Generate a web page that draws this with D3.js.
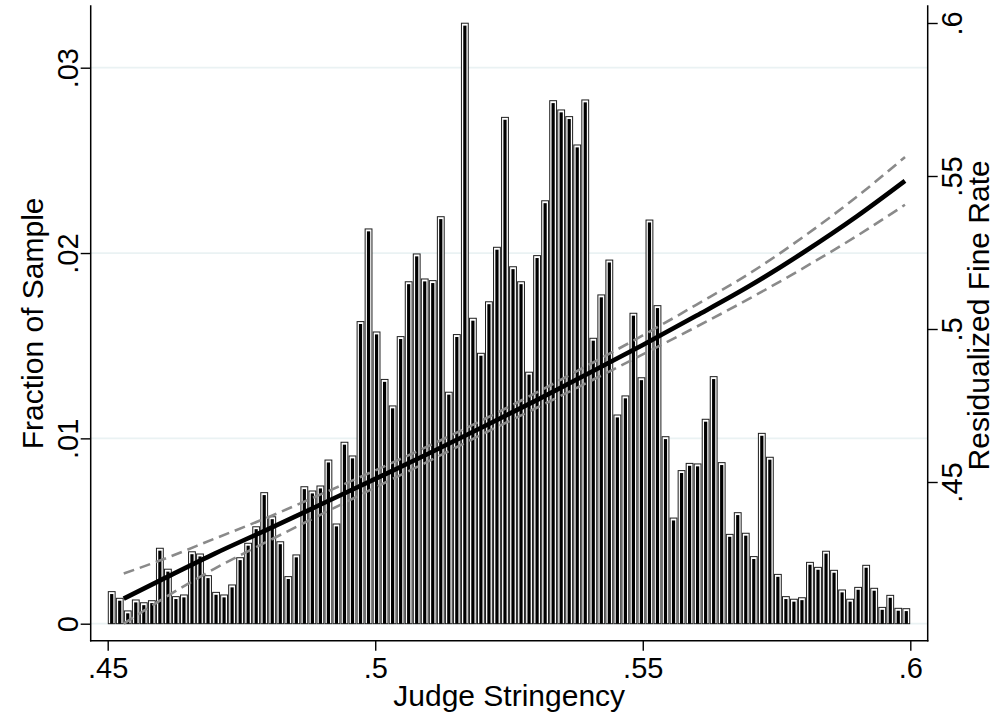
<!DOCTYPE html>
<html>
<head>
<meta charset="utf-8">
<script src="https://cdn.jsdelivr.net/npm/d3@7/dist/d3.min.js"></script>
<style>
  html, body { margin: 0; padding: 0; background: #ffffff; }
  svg { display: block; }
  text { font-family: "Liberation Sans", Arial, Helvetica, sans-serif; fill: #000; }
</style>
</head>
<body>
<svg id="chart" width="999" height="717"></svg>
<script>
// Histogram of judge stringency (100 bins of width .0015 starting at .45)
const binStart = 0.45;
const binWidth = 0.0015;
const fracSample = [
  0.00173, 0.00137, 0.00069, 0.00128, 0.00113, 0.00124, 0.00407, 0.00294, 0.00146, 0.00155,
  0.00388, 0.00376, 0.00259, 0.00169, 0.00155, 0.00209, 0.00356, 0.00434, 0.00523, 0.00707,
  0.00577, 0.00442, 0.00254, 0.00371, 0.00739, 0.00716, 0.00743, 0.00883, 0.00538, 0.00979,
  0.00905, 0.01630, 0.02130, 0.01574, 0.01318, 0.01175, 0.01549, 0.01845, 0.01995, 0.01860,
  0.01851, 0.02196, 0.01249, 0.01560, 0.03240, 0.01648, 0.01459, 0.01737, 0.02031, 0.02732,
  0.01926, 0.01845, 0.01357, 0.01986, 0.02282, 0.02822, 0.02772, 0.02736, 0.02583, 0.02826,
  0.01540, 0.01774, 0.01962, 0.01126, 0.01229, 0.01675, 0.01327, 0.02178, 0.01716, 0.01009,
  0.00570, 0.00826, 0.00865, 0.00862, 0.01103, 0.01333, 0.00869, 0.00482, 0.00599, 0.00488,
  0.00362, 0.01027, 0.00898, 0.00266, 0.00146, 0.00132, 0.00140, 0.00331, 0.00304, 0.00391,
  0.00288, 0.00182, 0.00132, 0.00196, 0.00315, 0.00191, 0.00088, 0.00153, 0.00083, 0.00081
];

// Local fit of the residualized fine rate on stringency, with 95% band
const fitX  = [0.453, 0.46, 0.47, 0.48, 0.49, 0.50, 0.51, 0.52, 0.53, 0.54, 0.55, 0.56, 0.57, 0.58, 0.59, 0.599];
const fitY  = [0.4119, 0.4180, 0.4266, 0.4346, 0.4428, 0.4510, 0.4593, 0.4679, 0.4766, 0.4856, 0.4948, 0.5043, 0.5141, 0.5250, 0.5368, 0.5484];
const ciLow = [0.4037, 0.4115, 0.4217, 0.4307, 0.4395, 0.4482, 0.4568, 0.4656, 0.4741, 0.4828, 0.4917, 0.5007, 0.5100, 0.5199, 0.5304, 0.5406];
const ciHigh= [0.4201, 0.4245, 0.4315, 0.4385, 0.4461, 0.4538, 0.4618, 0.4702, 0.4791, 0.4884, 0.4979, 0.5079, 0.5182, 0.5301, 0.5432, 0.5562];

// Axis ticks
const xTicks = [0.45, 0.5, 0.55, 0.6];
const yLeftTicks = [0, 0.01, 0.02, 0.03];
const yRightTicks = [0.45, 0.5, 0.55, 0.6];

const xTitle = "Judge Stringency";
const yLeftTitle = "Fraction of Sample";
const yRightTitle = "Residualized Fine Rate";

// Plot frame
const frame = { left: 90.7, right: 927.7, top: 6, bottom: 640.7 };
const tickFont = 29;
const titleFont = 30;

const svg = d3.select("#chart");

const x = d3.scaleLinear().domain([0.45, 0.6]).range([107.7, 910.3]);
const yL = d3.scaleLinear().domain([0, 0.03]).range([623.7, 67.7]);
const yR = d3.scaleLinear().domain([0.45, 0.6]).range([482, 23]);

const fmt = v => (v === 0 ? "0" : d3.format("")(v).replace(/^0\./, "."));

// Gridlines
svg.append("g").selectAll("line").data(yLeftTicks).join("line")
  .attr("x1", frame.left).attr("x2", frame.right)
  .attr("y1", d => yL(d)).attr("y2", d => yL(d))
  .attr("stroke", "#eaf2f3").attr("stroke-width", 1.8);

// Histogram bars: white bar with dark outline and black core
const bars = fracSample.map((v, i) => ({ x0: binStart + i * binWidth, x1: binStart + (i + 1) * binWidth, v }));
const gBars = svg.append("g");
gBars.selectAll("rect.outer").data(bars).join("rect")
  .attr("class", "outer")
  .attr("x", d => x(d.x0) + 0.6)
  .attr("width", d => x(d.x1) - x(d.x0) - 1.2)
  .attr("y", d => yL(d.v))
  .attr("height", d => yL(0) - yL(d.v))
  .attr("fill", "#ffffff")
  .attr("stroke", "#1e1e1e")
  .attr("stroke-width", 1);
gBars.selectAll("rect.core").data(bars).join("rect")
  .attr("class", "core")
  .attr("x", d => (x(d.x0) + x(d.x1)) / 2 - 1.6)
  .attr("width", 3.2)
  .attr("y", d => Math.min(yL(d.v) + 2.4, yL(0)))
  .attr("height", d => Math.max(0, yL(0) - yL(d.v) - 2.4))
  .attr("fill", "#000000");

// Confidence band and fit
const line = (ys) => d3.line()
  .x((d, i) => x(fitX[i]))
  .y((d, i) => yR(ys[i]))
  .curve(d3.curveMonotoneX)(fitX);

svg.append("path").attr("d", line(ciLow))
  .attr("fill", "none").attr("stroke", "#8a8a8a").attr("stroke-width", 2.6)
  .attr("stroke-dasharray", "11,6");
svg.append("path").attr("d", line(ciHigh))
  .attr("fill", "none").attr("stroke", "#8a8a8a").attr("stroke-width", 2.6)
  .attr("stroke-dasharray", "11,6");
svg.append("path").attr("d", line(fitY))
  .attr("fill", "none").attr("stroke", "#000000").attr("stroke-width", 4.6)
  .attr("stroke-linecap", "butt");

// Axes
const tickLen = 10;

const gx = svg.append("g").attr("transform", `translate(0,${frame.bottom})`)
  .call(d3.axisBottom(x).tickValues(xTicks).tickFormat(fmt).tickSize(tickLen));
gx.select(".domain").remove();
gx.selectAll(".tick line").attr("stroke", "#000").attr("stroke-width", 1.4);
gx.selectAll(".tick text").attr("font-size", tickFont).attr("y", 37).attr("dy", 0);

const gl = svg.append("g").attr("transform", `translate(${frame.left},0)`)
  .call(d3.axisLeft(yL).tickValues(yLeftTicks).tickFormat(fmt).tickSize(tickLen));
gl.select(".domain").remove();
gl.selectAll(".tick line").attr("stroke", "#000").attr("stroke-width", 1.4);
gl.selectAll(".tick text").attr("font-size", tickFont)
  .attr("x", 0).attr("y", -13).attr("dy", 0)
  .attr("text-anchor", "middle").attr("transform", "rotate(-90)");

const gr = svg.append("g").attr("transform", `translate(${frame.right},0)`)
  .call(d3.axisRight(yR).tickValues(yRightTicks).tickFormat(fmt).tickSize(tickLen));
gr.select(".domain").remove();
gr.selectAll(".tick line").attr("stroke", "#000").attr("stroke-width", 1.4);
gr.selectAll(".tick text").attr("font-size", tickFont)
  .attr("x", 0).attr("y", 34).attr("dy", 0)
  .attr("text-anchor", "middle").attr("transform", "rotate(-90)");

// Axis lines
const axisLines = [
  [frame.left, frame.top, frame.left, frame.bottom],
  [frame.right, frame.top, frame.right, frame.bottom],
  [frame.left, frame.bottom, frame.right, frame.bottom]
];
svg.append("g").selectAll("line").data(axisLines).join("line")
  .attr("x1", d => d[0]).attr("y1", d => d[1]).attr("x2", d => d[2]).attr("y2", d => d[3])
  .attr("stroke", "#000").attr("stroke-width", 1.5).attr("stroke-linecap", "square");

// Titles
const midY = (frame.top + frame.bottom) / 2;
svg.append("text").text(xTitle)
  .attr("x", (frame.left + frame.right) / 2).attr("y", 706)
  .attr("text-anchor", "middle").attr("font-size", titleFont);
svg.append("text").text(yLeftTitle)
  .attr("transform", `translate(43,${midY}) rotate(-90)`)
  .attr("text-anchor", "middle").attr("font-size", titleFont);
svg.append("text").text(yRightTitle)
  .attr("transform", `translate(989,${midY - 8}) rotate(-90)`)
  .attr("text-anchor", "middle").attr("font-size", titleFont);
</script>
</body>
</html>
